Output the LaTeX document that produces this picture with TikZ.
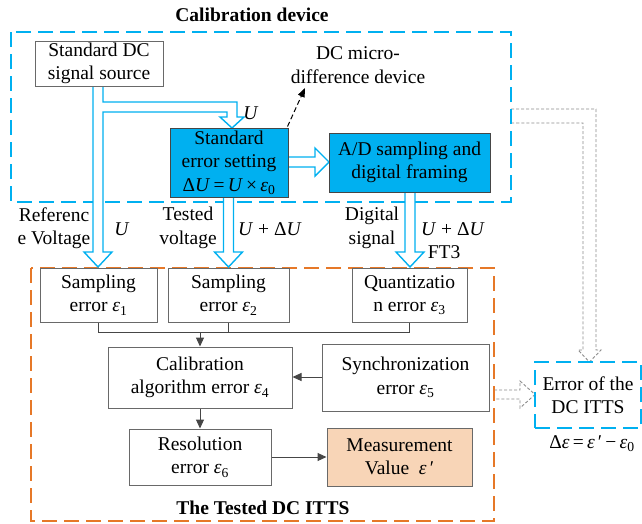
\documentclass[tikz,border=0pt]{standalone}
\usepackage{fontspec}
\setmainfont{Liberation Serif}
\usetikzlibrary{arrows.meta}
\definecolor{cyanb}{RGB}{0,176,240}
\definecolor{orangeb}{RGB}{230,120,40}
\definecolor{peach}{RGB}{248,213,183}
\definecolor{boxgray}{RGB}{105,105,105}
\definecolor{linegray}{RGB}{70,70,70}
\definecolor{dashgray}{RGB}{140,140,140}
\newcommand\eps[1]{\textit{ε}\textsubscript{#1}}
\newcommand\hdown[3]{\path[hollow] (#1-5,#2) -- (#1-5,#3-15) -- (#1-14,#3-15) -- (#1,#3) -- (#1+14,#3-15) -- (#1+5,#3-15) -- (#1+5,#2);}
\begin{document}
\begin{tikzpicture}[x=1pt,y=-1pt,
  every node/.style={font=\fontsize{19.5}{23.5}\selectfont, inner sep=0pt, align=center},
  box/.style={draw=boxgray, line width=1pt, fill=white},
  bluebox/.style={draw=linegray, line width=1pt, fill=cyanb},
  hollow/.style={draw=cyanb, line width=1.4pt, fill=white, line join=miter},
  gdash/.style={draw=dashgray, line width=0.9pt, dash pattern=on 3pt off 2pt, fill=white},
  conn/.style={draw=linegray, line width=1pt},
  tipa/.style={-{Triangle[length=9pt,width=8pt]}},
  frame/.style={line width=2pt, dash pattern=on 15pt off 7pt}
]
\useasboundingbox (0,0) rectangle (642,523);

% gray dashed hollow arrows
\path[gdash] (511,109) -- (596,109) -- (596,350) -- (601,350) -- (589.5,362) -- (578,350) -- (583,350) -- (583,123) -- (511,123);
\path[gdash] (494,390) -- (520,390) -- (520,381) -- (535,394.5) -- (520,408) -- (520,399) -- (494,399);

% frames
\draw[frame, draw=cyanb] (11,32) rectangle (511,202);
\draw[frame, draw=orangeb] (31,268) rectangle (494,521);

% hollow cyan arrows
\path[hollow] (93,86) -- (93,252) -- (84,252) -- (98,267) -- (112,252) -- (103,252) -- (103,112) -- (227,112) -- (227,117) -- (220,117) -- (232,128) -- (244,117) -- (237,117) -- (237,102) -- (103,102) -- (103,86);
\hdown{228.5}{197}{267}
\hdown{410}{192}{267}
\path[hollow] (288,157) -- (315,157) -- (315,148) -- (329,162) -- (315,176) -- (315,167) -- (288,167);

% boxes
\node[box, minimum width=128pt, minimum height=45pt] (src) at (99,63.5) {Standard DC\\signal source};
\node[bluebox, minimum width=118pt, minimum height=69pt] (ses) at (229,162.5) {Standard\\error setting\\Δ\textit{U}\,=\,\textit{U}\,×\,\eps{0}};
\node[bluebox, minimum width=161pt, minimum height=59pt] (ad) at (409.5,162.5) {A/D sampling and\\digital framing};

\node[box, minimum width=117pt, minimum height=54pt] (s1) at (98.5,295) {Sampling\\error \eps{1}};
\node[box, minimum width=121pt, minimum height=54pt] (s2) at (228.5,295) {Sampling\\error \eps{2}};
\node[box, minimum width=115pt, minimum height=54pt] (q) at (409.5,295) {Quantizatio\\n error \eps{3}};
\node[box, minimum width=184pt, minimum height=61pt] (cal) at (200,377.5) {Calibration\\algorithm error \eps{4}};
\node[box, minimum width=167pt, minimum height=67pt] (syn) at (405.5,377.5) {Synchronization\\error \eps{5}};
\node[box, minimum width=142pt, minimum height=56pt] (res) at (200,457) {Resolution\\error \eps{6}};
\node[box, fill=peach, minimum width=145pt, minimum height=58pt] (mv) at (399.5,457) {Measurement\\Value \ \textit{ε}\,′};
\node[draw=cyanb, frame, minimum width=106pt, minimum height=66pt] (err) at (588,395) {Error of the\\DC ITTS};

% connectors
\coordinate (j) at (200,332);
\draw[conn] (s1.south) -- (s1.south |- j) -- (q.south |- j) -- (q.south);
\draw[conn] (s2.south) -- (s2.south |- j);
\draw[conn, tipa] (j) -- (cal.north);
\draw[conn, tipa] (syn.west |- 0,377) -- (cal.east |- 0,377);
\draw[conn, tipa] (cal.south) -- (res.north);
\draw[conn, tipa] (res.east) -- (mv.west);
\coordinate (mdlab) at (305,88);
\draw[line width=1pt, dash pattern=on 5pt off 3pt, -{Triangle[length=9pt,width=7pt]}] (ses.north east) ++(-1,-1) -- (mdlab);

% labels
\node[font=\fontsize{19.5}{23.5}\selectfont\bfseries] (t1) at (252,15) {Calibration device};
\node[font=\fontsize{19.5}{23.5}\selectfont\bfseries] (t2) at (263,508) {The Tested DC ITTS};
\node (lmd) at (358,65) {DC micro-\\difference device};
\node (lu1) at (251,113) {\textit{U}};
\node (lref) at (54,228) {Referenc\\e Voltage};
\node (lu2) at (122,229) {\textit{U}};
\node (ltest) at (188,228) {Tested\\voltage};
\node (lu3) at (270,229) {\textit{U} + Δ\textit{U}};
\node (ldig) at (372,228) {Digital\\signal};
\node (lu4) at (453,229) {\textit{U} + Δ\textit{U}};
\node (lft) at (444,252) {FT3};
\node (lde) at (592,444) {Δ\textit{ε}\,=\,\textit{ε}\,′\,−\,\eps{0}};
\end{tikzpicture}
\end{document}
